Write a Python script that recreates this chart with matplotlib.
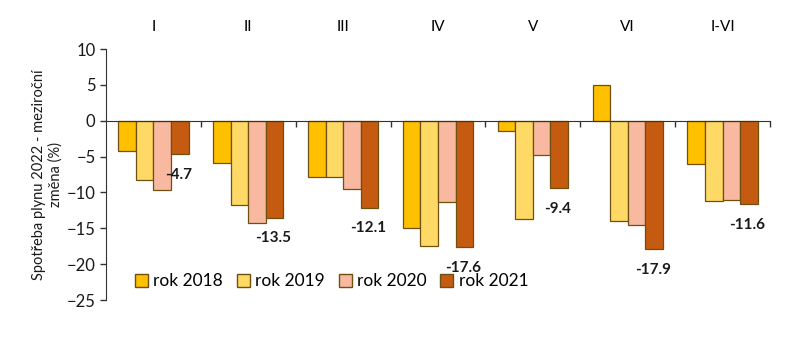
import matplotlib.pyplot as plt
import numpy as np
from matplotlib.patches import Patch

plt.rcParams['font.family'] = ['Lato', 'DejaVu Sans']

months = ['I', 'II', 'III', 'IV', 'V', 'VI', 'I-VI']
series = ['rok 2018', 'rok 2019', 'rok 2020', 'rok 2021']
v2018 = [-4.2, -5.9, -7.9, -15.0, -1.5, 5.0, -6.0]
v2019 = [-8.3, -11.7, -7.8, -17.4, -13.7, -14.0, -11.2]
v2020 = [-9.7, -14.2, -9.5, -11.3, -4.8, -14.6, -11.1]
v2021 = [-4.7, -13.5, -12.1, -17.6, -9.4, -17.9, -11.6]
colors = ['#FFC000', '#FFD966', '#F8B9A0', '#C55A11']
edge = '#705010'

fig = plt.figure(figsize=(8, 3.54), dpi=100)
ax = fig.add_axes([0.1325, 0.1525, 0.83, 0.709])

x = np.arange(len(months))
w = 0.185
data = [v2018, v2019, v2020, v2021]
for i, (vals, c) in enumerate(zip(data, colors)):
    ax.bar(x + (i - 1.5) * w, vals, w, color=c, edgecolor=edge, linewidth=0.9, zorder=2)

# labels under the 2021 bars
for xi, v in zip(x, v2021):
    ax.annotate(f'{v:.1f}', (xi + 1.5 * w, v), xytext=(-1, -10), textcoords='offset points',
                ha='center', va='top', fontsize=11, fontweight='bold', color='#1a1a1a')

ax.set_xlim(-0.5, len(months) - 0.5)
ax.set_ylim(-25, 10)
ax.set_yticks(range(-25, 11, 5))
ax.tick_params(axis='y', labelsize=12, direction='out', length=4, width=1, colors='#333333')
for lab in ax.get_yticklabels():
    lab.set_color('#1a1a1a')

ax.spines['top'].set_visible(False)
ax.spines['right'].set_visible(False)
ax.spines['left'].set_color('#333333')
ax.spines['bottom'].set_position(('data', 0))
ax.spines['bottom'].set_color('#333333')
ax.spines['bottom'].set_zorder(3)
ax.set_xticks(x + 0.5)
ax.tick_params(axis='x', direction='out', length=4, width=1, labelbottom=False, colors='#333333')

sec = ax.secondary_xaxis('top')
sec.set_xticks(x, months)
sec.tick_params(length=0, labelsize=11, pad=11)
sec.spines['top'].set_visible(False)

ax.set_ylabel('Spotřeba plynu 2022 - meziroční\nzměna (%)', fontsize=10.5, color='#1a1a1a', labelpad=3)

handles = [Patch(facecolor=c, edgecolor=edge, label=s) for c, s in zip(colors, series)]
ax.legend(handles=handles, loc='lower left', bbox_to_anchor=(0.02, -0.02), ncol=4,
          frameon=False, fontsize=12.5, handlelength=0.75, handleheight=0.75,
          handletextpad=0.3, columnspacing=0.8)

fig.savefig('out.png', dpi=100)
